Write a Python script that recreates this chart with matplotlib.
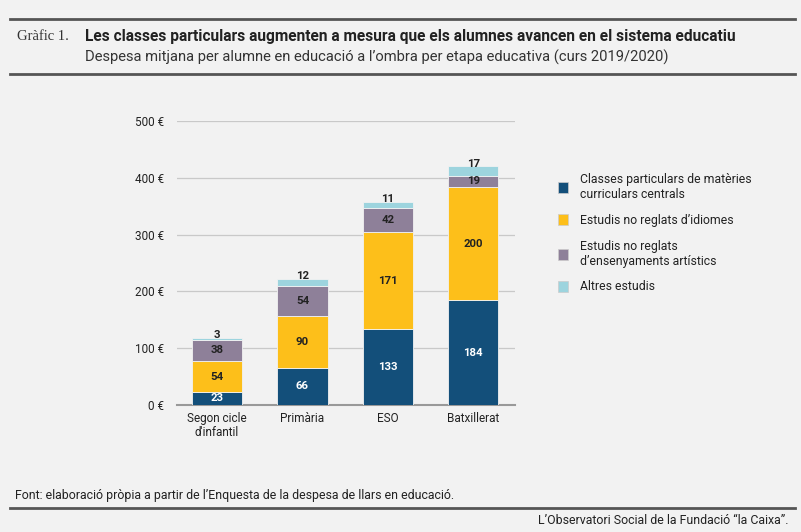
import matplotlib.pyplot as plt
from matplotlib.patches import Patch
from matplotlib.lines import Line2D
import numpy as np

categories = ["Segon cicle\nd'infantil", "Primària", "ESO", "Batxillerat"]
series_names = ["Classes particulars de matèries\ncurriculars centrals",
                "Estudis no reglats d’idiomes",
                "Estudis no reglats\nd’ensenyaments artístics",
                "Altres estudis"]
curriculars = [23, 66, 133, 184]
idiomes = [54, 90, 171, 200]
artistics = [38, 54, 42, 19]
altres = [3, 12, 11, 17]
colors = ["#134f7a", "#fdbf1a", "#8e8099", "#9dd4de"]
label_colors = ["white", "#222222", "#222222", "#222222"]
yticks = [0, 100, 200, 300, 400, 500]

bg = "#f2f2f2"
plt.rcParams['font.family'] = ['Roboto', 'DejaVu Sans']

fig = plt.figure(figsize=(8.01, 5.32), dpi=100, facecolor=bg)
W, H = 801, 532

# header / footer rules
for y, lw in [(19, 2.0), (74, 2.0), (508, 2.0)]:
    fig.add_artist(Line2D([10 / W, 795 / W], [1 - y / H, 1 - y / H], color="#555555", lw=lw))

fig.text(17 / W, 1 - 36 / H, "Gràfic 1.", family=["Liberation Serif", "DejaVu Serif"],
         fontsize=10.5, color="#333333", va="center")
fig.text(85 / W, 1 - 36 / H, "Les classes particulars augmenten a mesura que els alumnes avancen en el sistema educatiu",
         fontweight="bold", fontsize=11.2, color="#222222", va="center")
fig.text(85 / W, 1 - 57 / H, "Despesa mitjana per alumne en educació a l’ombra per etapa educativa (curs 2019/2020)",
         fontsize=10.6, color="#333333", va="center")
fig.text(15 / W, 1 - 495 / H, "Font: elaboració pròpia a partir de l’Enquesta de la despesa de llars en educació.",
         fontsize=8.9, color="#222222", va="center")
fig.text(788 / W, 1 - 520 / H, "L’Observatori Social de la Fundació “la Caixa”.",
         fontsize=8.9, color="#222222", va="center", ha="right")

ax = fig.add_axes([177 / W, 1 - 405 / H, (515 - 177) / W, (405 - 121) / H])
ax.set_facecolor(bg)

x = np.arange(len(categories))
data = [curriculars, idiomes, artistics, altres]
bottom = np.zeros(len(categories))
width = 0.59
for i, vals in enumerate(data):
    vals = np.array(vals)
    ax.bar(x, vals, width, bottom=bottom, color=colors[i], edgecolor=bg, linewidth=0.6, zorder=3)
    for j, v in enumerate(vals):
        if i == 3:
            ax.annotate(str(v), (x[j], bottom[j] + v), xytext=(0, 2), textcoords="offset points",
                        ha="center", va="center", fontsize=8.2, fontweight="bold", color=label_colors[i])
        else:
            ax.text(x[j], bottom[j] + v / 2, str(v), ha="center", va="center",
                    fontsize=8.2, fontweight="bold", color=label_colors[i], zorder=4)
    bottom = bottom + vals

ax.set_xlim(-0.47, 3.49)
ax.set_ylim(0, 500)
ax.set_yticks(yticks)
ax.set_yticklabels([f"{t} €" for t in yticks])
ax.set_xticks(x)
ax.set_xticklabels(categories, linespacing=1.1)
ax.grid(axis="y", color="#c9c9c9", lw=0.9, zorder=0)
for s in ["top", "right", "left"]:
    ax.spines[s].set_visible(False)
ax.spines["bottom"].set_color("#999999")
ax.spines["bottom"].set_linewidth(1.5)
ax.tick_params(axis="both", length=0, labelsize=8.5, colors="#222222")
ax.tick_params(axis="y", pad=9)
ax.tick_params(axis="x", pad=5)

handles = [Patch(facecolor=c, edgecolor="#cccccc", linewidth=0.5) for c in colors]
leg = fig.legend(handles, series_names, loc="upper left", bbox_to_anchor=(547 / W, 1 - 162 / H),
                 frameon=False, fontsize=8.8, handlelength=0.85, handleheight=1.0,
                 handletextpad=0.95, labelspacing=1.05)
for t in leg.get_texts():
    t.set_color("#222222")

fig.savefig("out.png", dpi=100, facecolor=bg)
